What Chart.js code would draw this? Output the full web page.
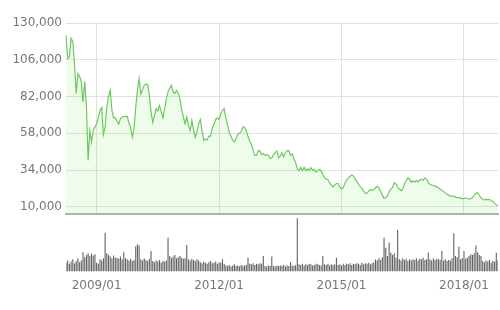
<!DOCTYPE html>
<html>
<head>
<meta charset="utf-8">
<script src="https://cdn.jsdelivr.net/npm/chart.js@4.4.1/dist/chart.umd.min.js"></script>
<style>
    body { margin: 0; background: #fff; }
    #wrap { position: relative; width: 500px; height: 310px; }
    #priceBox { position: absolute; left: 0; top: 0; width: 500px; height: 225px; }
    #volBox { position: absolute; left: 0; top: 214px; width: 500px; height: 96px; }
</style>
</head>
<body>
<div id="wrap">
    <div id="priceBox"><canvas id="priceChart"></canvas></div>
    <div id="volBox"><canvas id="volChart"></canvas></div>
</div>
<script>
// half-month closes, thousands
const prices = [
    122, 106.8, 107.9, 120, 118, 103.6, 83.9, 97, 95, 91.5, 78.4, 92, 76, 40.2, 59.8, 52.2, 60, 62, 64.2, 68,
    73, 74.7, 57, 62, 75, 82, 86, 73, 68, 68, 66, 64, 67.5, 68.5, 69, 69, 69, 64.5, 62, 55.4,
    61, 75, 86, 93.7, 83.5, 86.5, 89.3, 90, 89.8, 83, 72, 65, 69.5, 74, 72.5, 76, 72, 68, 74, 80.5,
    85, 87.5, 89.3, 85, 84, 86, 84, 80.6, 73.5, 68.6, 64.2, 68.6, 63, 59.8, 66.4, 59.8, 55.4, 58.7, 64.2, 67,
    59.5, 53.3, 54.4, 53.5, 56.3, 56, 61.5, 64, 67, 68, 67, 70.5, 73, 74, 68, 63.5, 58.5, 56, 53.5, 52.5,
    54.5, 57.5, 58.2, 59, 62, 62, 59.5, 56, 53, 50.5, 47, 43.5, 43.5, 46.5, 46.5, 44, 44.8, 43.5, 44, 43.7,
    41.5, 42, 44, 45.3, 46.5, 42, 43, 45.3, 42.7, 45.2, 46.7, 46.7, 43.6, 44.5, 41.2, 39, 34.7, 33.6, 35.8, 33.6,
    35.8, 33.6, 34.7, 33.6, 35.6, 33.7, 34.5, 32.7, 33.6, 34.5, 33.4, 31, 29, 28.1, 27.6, 25.6, 24.2, 23, 24.2, 25.2,
    25.2, 22.9, 21.6, 22.5, 25.4, 27.6, 28.7, 29.8, 30.8, 30.2, 28, 26.4, 24.7, 23.2, 22, 20.2, 18.7, 18.9, 20.2, 21.3,
    20.8, 21.3, 22.4, 23.5, 22.2, 19.9, 17.6, 15.4, 15.9, 17, 20.1, 21.5, 22.6, 25.7, 24.9, 22.8, 21.6, 20.5, 21.5, 24.8,
    27, 28.8, 28, 26, 27, 26.1, 27.3, 26.1, 27.6, 27.9, 27.3, 28.8, 28.1, 25.6, 24.7, 24.2, 23.8, 23.6, 23, 22.3,
    21.4, 20.8, 20, 18.9, 18.1, 17.6, 16.9, 16.9, 16.9, 16.3, 15.9, 16, 15.8, 15.2, 15.5, 15.7, 15.2, 15, 15.3, 15.9,
    17.6, 18.6, 19.3, 17.5, 15.9, 15.1, 14.4, 15, 14.5, 14.8, 13.9, 13.5, 12.2, 11.3, 10.7
];

// traded volume, relative units (100 = top of panel)
const volumes = [
    16, 20, 14, 18, 22, 15, 19, 24, 17, 20, 35, 26, 30, 33, 28, 32, 29, 31, 16, 14,
    22, 20, 24, 70, 33, 30, 27, 24, 29, 25, 25, 23, 27, 22, 35, 24, 22, 20, 23, 19,
    21, 45, 49, 47, 22, 20, 24, 21, 19, 23, 37, 19, 17, 20, 18, 21, 16, 19, 18, 20,
    61, 28, 25, 27, 30, 24, 26, 28, 25, 23, 24, 48, 22, 20, 23, 21, 19, 22, 20, 17,
    15, 18, 16, 14, 17, 19, 15, 16, 18, 14, 17, 16, 22, 14, 11, 10, 12, 9, 11, 13,
    10, 11, 9, 12, 10, 11, 12, 25, 14, 13, 15, 12, 14, 13, 15, 14, 28, 10, 9, 11,
    10, 27, 10, 9, 11, 10, 11, 10, 12, 9, 11, 10, 17, 11, 10, 12, 96, 13, 12, 14,
    11, 13, 12, 14, 13, 11, 12, 14, 13, 12, 11, 28, 13, 12, 14, 11, 13, 12, 13, 25,
    12, 13, 11, 14, 12, 14, 13, 15, 12, 14, 13, 15, 14, 12, 16, 13, 15, 14, 16, 13,
    15, 17, 22, 20, 24, 21, 26, 61, 43, 28, 52, 34, 30, 33, 25, 75, 22, 20, 24, 21,
    23, 19, 22, 20, 22, 21, 24, 20, 23, 22, 25, 21, 22, 34, 22, 20, 24, 21, 23, 22,
    21, 37, 20, 22, 19, 21, 20, 24, 69, 28, 26, 45, 22, 24, 37, 23, 25, 28, 31, 30,
    33, 47, 35, 30, 28, 19, 17, 20, 18, 21, 16, 19, 18, 34, 20
];

const priceTicks = [10, 34, 58, 82, 106, 130];
const yearTicks = ['2009/01', '2012/01', '2015/01', '2018/01'];

// dates: 1st and 16th of each month from 2008/04
const dates = [];
for (let i = 0; i < prices.length; i++) {
    const m = 3 + Math.floor(i / 2);
    const y = 2008 + Math.floor(m / 12);
    const mm = String(m % 12 + 1).padStart(2, '0');
    dates.push(y + '/' + mm + '/' + (i % 2 === 0 ? '01' : '16'));
}

function yearLabel(index) {
    const d = dates[index];
    if (!d || !d.endsWith('/01')) return null;
    const ym = d.slice(0, 7);
    return yearTicks.includes(ym) ? ym : null;
}

const axisFont = { family: 'DejaVu Sans', size: 12 };
const gridColor = '#e0e0e0';

const priceCtx = document.getElementById('priceChart').getContext('2d');
const priceChart = new Chart(priceCtx, {
    type: 'line',
    data: {
        labels: dates,
        datasets: [{
            data: prices,
            borderColor: '#6cc95f',
            borderWidth: 1.2,
            backgroundColor: 'rgba(113, 230, 80, 0.12)',
            fill: 'start',
            pointRadius: 0,
            tension: 0
        }]
    },
    options: {
        responsive: true,
        maintainAspectRatio: false,
        animation: false,
        layout: { padding: { top: 23, right: 2, left: 0, bottom: 3 } },
        plugins: { legend: { display: false }, tooltip: { enabled: false } },
        scales: {
            x: {
                ticks: { display: false, autoSkip: false },
                grid: {
                    drawTicks: false,
                    lineWidth: 1,
                    color: c => yearLabel(c.index) ? gridColor : 'rgba(0,0,0,0)'
                },
                border: { display: true, color: '#b4b4b4', width: 2 }
            },
            y: {
                min: 5.4,
                max: 130,
                afterBuildTicks: s => { s.ticks = priceTicks.map(v => ({ value: v })); },
                afterFit: s => { s.width = 66; },
                ticks: {
                    color: '#777',
                    font: axisFont,
                    padding: 4,
                    callback: v => (v * 1000).toLocaleString('en-US')
                },
                grid: { color: gridColor, drawTicks: false },
                border: { display: false }
            }
        }
    }
});

const volCtx = document.getElementById('volChart').getContext('2d');
const volChart = new Chart(volCtx, {
    type: 'bar',
    data: {
        labels: dates,
        datasets: [{
            data: volumes,
            backgroundColor: '#626262',
            barPercentage: 0.65,
            categoryPercentage: 1
        }]
    },
    options: {
        responsive: true,
        maintainAspectRatio: false,
        animation: false,
        layout: { padding: { top: 2, right: 2, left: 66, bottom: 14 } },
        plugins: { legend: { display: false }, tooltip: { enabled: false } },
        scales: {
            x: {
                offset: false,
                ticks: {
                    autoSkip: false,
                    minRotation: 0,
                    maxRotation: 0,
                    color: '#777',
                    font: axisFont,
                    padding: 3,
                    callback: (v, i) => yearLabel(i)
                },
                grid: {
                    offset: false,
                    drawOnChartArea: false,
                    tickLength: 4,
                    color: c => yearLabel(c.index) ? '#aaaaaa' : 'rgba(0,0,0,0)'
                },
                border: { display: false }
            },
            y: {
                display: false,
                min: 0,
                max: 100
            }
        }
    }
});
</script>
</body>
</html>
